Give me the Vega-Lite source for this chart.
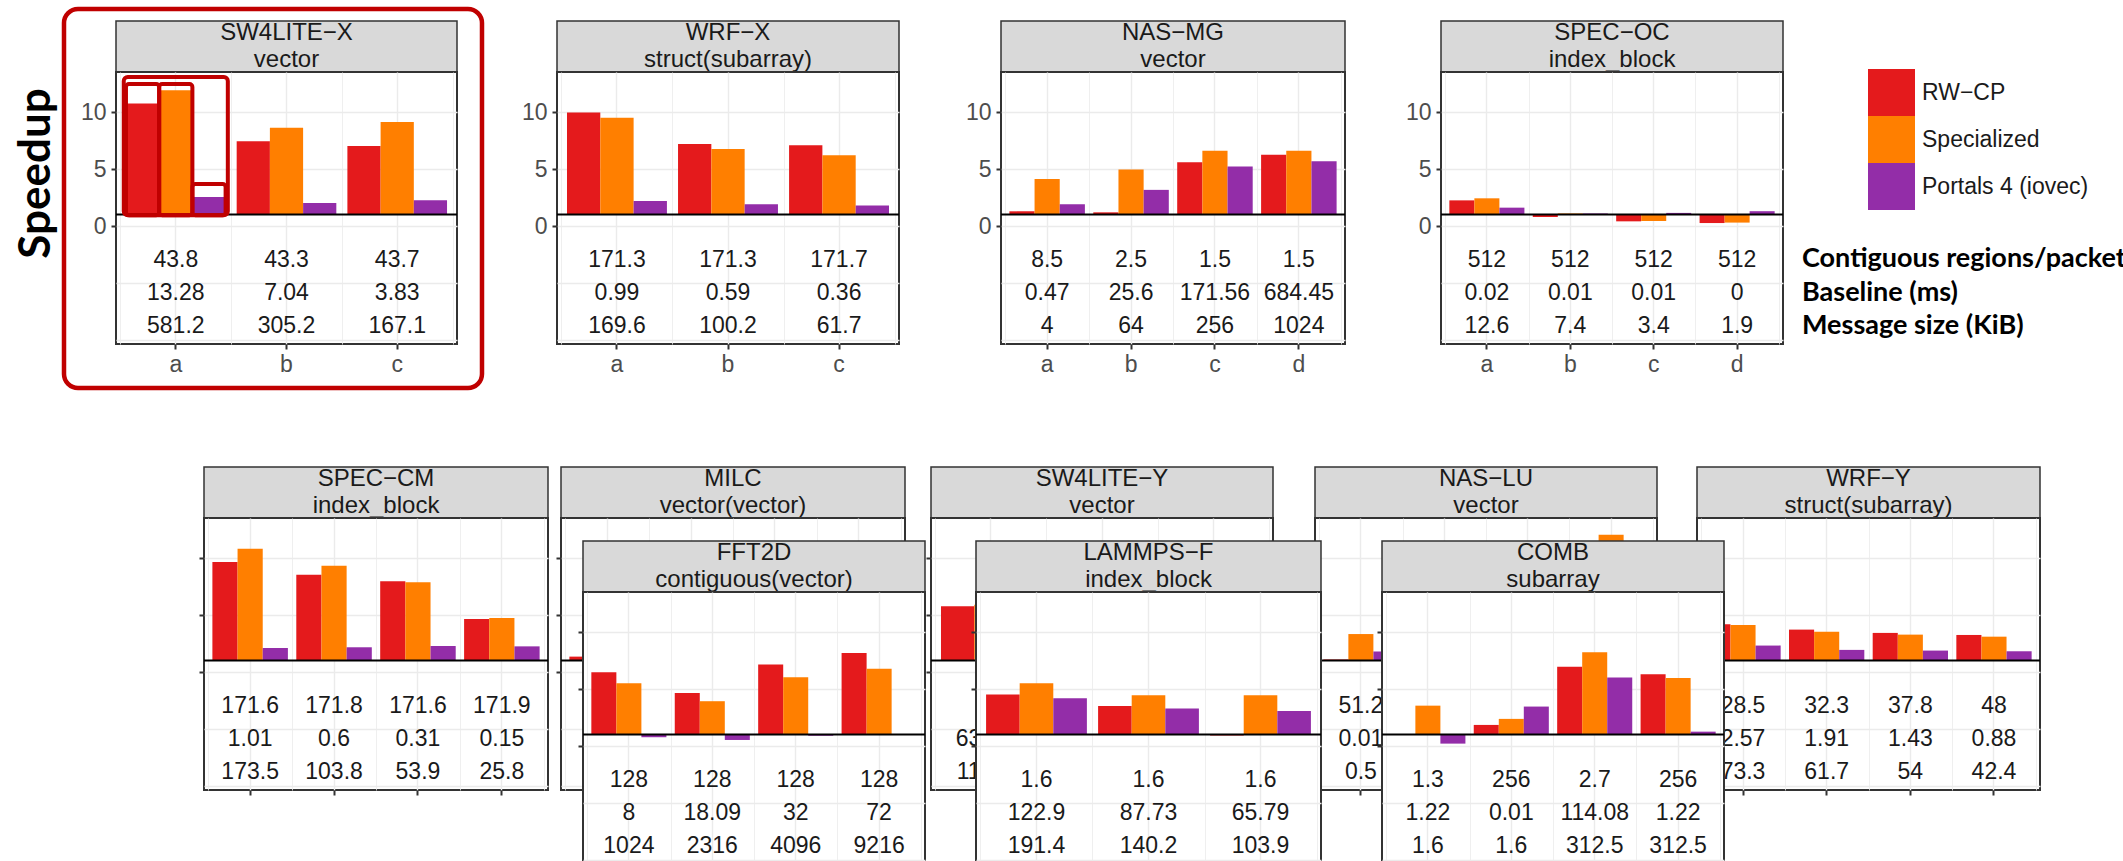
{
 "$schema": "https://vega.github.io/schema/vega-lite/v6.json",
 "padding": {"left": 13, "top": 5, "right": 2, "bottom": 2},
 "background": "white",
 "config": {
  "view": {"stroke": "#333333", "strokeWidth": 2, "fill": "white"},
  "axis": {"labelFont": "Liberation Sans", "labelFontSize": 23, "labelColor": "#4D4D4D", "tickColor": "#333333", "tickSize": 5, "tickWidth": 2, "domain": false, "gridColor": "#EBEBEB"},
  "text": {"font": "Liberation Sans", "fontSize": 23, "color": "#1A1A1A"}
 },
 "datasets": {
  "bars": [
   {"p":"SW4LITE-X","cat":"a","s":"RW-CP","v":10.74},{"p":"SW4LITE-X","cat":"a","s":"Specialized","v":11.9},{"p":"SW4LITE-X","cat":"a","s":"Portals 4 (iovec)","v":2.54},
   {"p":"SW4LITE-X","cat":"b","s":"RW-CP","v":7.43},{"p":"SW4LITE-X","cat":"b","s":"Specialized","v":8.63},{"p":"SW4LITE-X","cat":"b","s":"Portals 4 (iovec)","v":2.02},
   {"p":"SW4LITE-X","cat":"c","s":"RW-CP","v":7.02},{"p":"SW4LITE-X","cat":"c","s":"Specialized","v":9.12},{"p":"SW4LITE-X","cat":"c","s":"Portals 4 (iovec)","v":2.25},
   {"p":"WRF-X","cat":"a","s":"RW-CP","v":9.95},{"p":"WRF-X","cat":"a","s":"Specialized","v":9.5},{"p":"WRF-X","cat":"a","s":"Portals 4 (iovec)","v":2.19},
   {"p":"WRF-X","cat":"b","s":"RW-CP","v":7.19},{"p":"WRF-X","cat":"b","s":"Specialized","v":6.75},{"p":"WRF-X","cat":"b","s":"Portals 4 (iovec)","v":1.9},
   {"p":"WRF-X","cat":"c","s":"RW-CP","v":7.08},{"p":"WRF-X","cat":"c","s":"Specialized","v":6.2},{"p":"WRF-X","cat":"c","s":"Portals 4 (iovec)","v":1.79},
   {"p":"NAS-MG","cat":"a","s":"RW-CP","v":1.29},{"p":"NAS-MG","cat":"a","s":"Specialized","v":4.13},{"p":"NAS-MG","cat":"a","s":"Portals 4 (iovec)","v":1.9},
   {"p":"NAS-MG","cat":"b","s":"RW-CP","v":1.2},{"p":"NAS-MG","cat":"b","s":"Specialized","v":4.95},{"p":"NAS-MG","cat":"b","s":"Portals 4 (iovec)","v":3.17},
   {"p":"NAS-MG","cat":"c","s":"RW-CP","v":5.59},{"p":"NAS-MG","cat":"c","s":"Specialized","v":6.61},{"p":"NAS-MG","cat":"c","s":"Portals 4 (iovec)","v":5.21},
   {"p":"NAS-MG","cat":"d","s":"RW-CP","v":6.26},{"p":"NAS-MG","cat":"d","s":"Specialized","v":6.61},{"p":"NAS-MG","cat":"d","s":"Portals 4 (iovec)","v":5.68},
   {"p":"SPEC-OC","cat":"a","s":"RW-CP","v":2.25},{"p":"SPEC-OC","cat":"a","s":"Specialized","v":2.43},{"p":"SPEC-OC","cat":"a","s":"Portals 4 (iovec)","v":1.61},
   {"p":"SPEC-OC","cat":"b","s":"RW-CP","v":0.79},{"p":"SPEC-OC","cat":"b","s":"Specialized","v":1.1},{"p":"SPEC-OC","cat":"b","s":"Portals 4 (iovec)","v":1.1},
   {"p":"SPEC-OC","cat":"c","s":"RW-CP","v":0.41},{"p":"SPEC-OC","cat":"c","s":"Specialized","v":0.44},{"p":"SPEC-OC","cat":"c","s":"Portals 4 (iovec)","v":1.15},
   {"p":"SPEC-OC","cat":"d","s":"RW-CP","v":0.26},{"p":"SPEC-OC","cat":"d","s":"Specialized","v":0.3},{"p":"SPEC-OC","cat":"d","s":"Portals 4 (iovec)","v":1.3},
   {"p":"SPEC-CM","cat":"a","s":"RW-CP","v":9.65},{"p":"SPEC-CM","cat":"a","s":"Specialized","v":10.82},{"p":"SPEC-CM","cat":"a","s":"Portals 4 (iovec)","v":2.1},
   {"p":"SPEC-CM","cat":"b","s":"RW-CP","v":8.54},{"p":"SPEC-CM","cat":"b","s":"Specialized","v":9.33},{"p":"SPEC-CM","cat":"b","s":"Portals 4 (iovec)","v":2.17},
   {"p":"SPEC-CM","cat":"c","s":"RW-CP","v":7.96},{"p":"SPEC-CM","cat":"c","s":"Specialized","v":7.87},{"p":"SPEC-CM","cat":"c","s":"Portals 4 (iovec)","v":2.28},
   {"p":"SPEC-CM","cat":"d","s":"RW-CP","v":4.65},{"p":"SPEC-CM","cat":"d","s":"Specialized","v":4.74},{"p":"SPEC-CM","cat":"d","s":"Portals 4 (iovec)","v":2.25},
   {"p":"MILC","cat":"a","s":"RW-CP","v":1.35},
   {"p":"SW4LITE-Y","cat":"a","s":"RW-CP","v":5.77},{"p":"SW4LITE-Y","cat":"a","s":"Specialized","v":5.9},
   {"p":"NAS-LU","cat":"a","s":"RW-CP","v":1.1},{"p":"NAS-LU","cat":"a","s":"Specialized","v":3.33},{"p":"NAS-LU","cat":"a","s":"Portals 4 (iovec)","v":1.8},
   {"p":"NAS-LU","cat":"d","s":"Specialized","v":12.05},
   {"p":"WRF-Y","cat":"a","s":"RW-CP","v":4.2},{"p":"WRF-Y","cat":"a","s":"Specialized","v":4.13},{"p":"WRF-Y","cat":"a","s":"Portals 4 (iovec)","v":2.32},
   {"p":"WRF-Y","cat":"b","s":"RW-CP","v":3.72},{"p":"WRF-Y","cat":"b","s":"Specialized","v":3.54},{"p":"WRF-Y","cat":"b","s":"Portals 4 (iovec)","v":1.94},
   {"p":"WRF-Y","cat":"c","s":"RW-CP","v":3.43},{"p":"WRF-Y","cat":"c","s":"Specialized","v":3.28},{"p":"WRF-Y","cat":"c","s":"Portals 4 (iovec)","v":1.88},
   {"p":"WRF-Y","cat":"d","s":"RW-CP","v":3.25},{"p":"WRF-Y","cat":"d","s":"Specialized","v":3.1},{"p":"WRF-Y","cat":"d","s":"Portals 4 (iovec)","v":1.82},
   {"p":"FFT2D","cat":"a","s":"RW-CP","v":6.47},{"p":"FFT2D","cat":"a","s":"Specialized","v":5.51},{"p":"FFT2D","cat":"a","s":"Portals 4 (iovec)","v":0.77},
   {"p":"FFT2D","cat":"b","s":"RW-CP","v":4.66},{"p":"FFT2D","cat":"b","s":"Specialized","v":3.93},{"p":"FFT2D","cat":"b","s":"Portals 4 (iovec)","v":0.53},
   {"p":"FFT2D","cat":"c","s":"RW-CP","v":7.14},{"p":"FFT2D","cat":"c","s":"Specialized","v":6.03},{"p":"FFT2D","cat":"c","s":"Portals 4 (iovec)","v":0.9},
   {"p":"FFT2D","cat":"d","s":"RW-CP","v":8.17},{"p":"FFT2D","cat":"d","s":"Specialized","v":6.77},{"p":"FFT2D","cat":"d","s":"Portals 4 (iovec)","v":1.05},
   {"p":"LAMMPS-F","cat":"a","s":"RW-CP","v":4.51},{"p":"LAMMPS-F","cat":"a","s":"Specialized","v":5.51},{"p":"LAMMPS-F","cat":"a","s":"Portals 4 (iovec)","v":4.19},
   {"p":"LAMMPS-F","cat":"b","s":"RW-CP","v":3.52},{"p":"LAMMPS-F","cat":"b","s":"Specialized","v":4.46},{"p":"LAMMPS-F","cat":"b","s":"Portals 4 (iovec)","v":3.28},
   {"p":"LAMMPS-F","cat":"c","s":"RW-CP","v":0.92},{"p":"LAMMPS-F","cat":"c","s":"Specialized","v":4.46},{"p":"LAMMPS-F","cat":"c","s":"Portals 4 (iovec)","v":3.08},
   {"p":"COMB","cat":"a","s":"RW-CP","v":1.05},{"p":"COMB","cat":"a","s":"Specialized","v":3.54},{"p":"COMB","cat":"a","s":"Portals 4 (iovec)","v":0.21},
   {"p":"COMB","cat":"b","s":"RW-CP","v":1.85},{"p":"COMB","cat":"b","s":"Specialized","v":2.38},{"p":"COMB","cat":"b","s":"Portals 4 (iovec)","v":3.46},
   {"p":"COMB","cat":"c","s":"RW-CP","v":6.96},{"p":"COMB","cat":"c","s":"Specialized","v":8.22},{"p":"COMB","cat":"c","s":"Portals 4 (iovec)","v":6.0},
   {"p":"COMB","cat":"d","s":"RW-CP","v":6.3},{"p":"COMB","cat":"d","s":"Specialized","v":5.97},{"p":"COMB","cat":"d","s":"Portals 4 (iovec)","v":1.26}
  ],
  "tab": [
   {"p":"SW4LITE-X","cat":"a","r1":"43.8","r2":"13.28","r3":"581.2"},{"p":"SW4LITE-X","cat":"b","r1":"43.3","r2":"7.04","r3":"305.2"},{"p":"SW4LITE-X","cat":"c","r1":"43.7","r2":"3.83","r3":"167.1"},
   {"p":"WRF-X","cat":"a","r1":"171.3","r2":"0.99","r3":"169.6"},{"p":"WRF-X","cat":"b","r1":"171.3","r2":"0.59","r3":"100.2"},{"p":"WRF-X","cat":"c","r1":"171.7","r2":"0.36","r3":"61.7"},
   {"p":"NAS-MG","cat":"a","r1":"8.5","r2":"0.47","r3":"4"},{"p":"NAS-MG","cat":"b","r1":"2.5","r2":"25.6","r3":"64"},{"p":"NAS-MG","cat":"c","r1":"1.5","r2":"171.56","r3":"256"},{"p":"NAS-MG","cat":"d","r1":"1.5","r2":"684.45","r3":"1024"},
   {"p":"SPEC-OC","cat":"a","r1":"512","r2":"0.02","r3":"12.6"},{"p":"SPEC-OC","cat":"b","r1":"512","r2":"0.01","r3":"7.4"},{"p":"SPEC-OC","cat":"c","r1":"512","r2":"0.01","r3":"3.4"},{"p":"SPEC-OC","cat":"d","r1":"512","r2":"0","r3":"1.9"},
   {"p":"SPEC-CM","cat":"a","r1":"171.6","r2":"1.01","r3":"173.5"},{"p":"SPEC-CM","cat":"b","r1":"171.8","r2":"0.6","r3":"103.8"},{"p":"SPEC-CM","cat":"c","r1":"171.6","r2":"0.31","r3":"53.9"},{"p":"SPEC-CM","cat":"d","r1":"171.9","r2":"0.15","r3":"25.8"},
   {"p":"SW4LITE-Y","cat":"a","r1":"1","r2":"634.27","r3":"1163.2"},
   {"p":"NAS-LU","cat":"a","r1":"51.2","r2":"0.01","r3":"0.5"},
   {"p":"WRF-Y","cat":"a","r1":"28.5","r2":"2.57","r3":"73.3"},{"p":"WRF-Y","cat":"b","r1":"32.3","r2":"1.91","r3":"61.7"},{"p":"WRF-Y","cat":"c","r1":"37.8","r2":"1.43","r3":"54"},{"p":"WRF-Y","cat":"d","r1":"48","r2":"0.88","r3":"42.4"},
   {"p":"FFT2D","cat":"a","r1":"128","r2":"8","r3":"1024"},{"p":"FFT2D","cat":"b","r1":"128","r2":"18.09","r3":"2316"},{"p":"FFT2D","cat":"c","r1":"128","r2":"32","r3":"4096"},{"p":"FFT2D","cat":"d","r1":"128","r2":"72","r3":"9216"},
   {"p":"LAMMPS-F","cat":"a","r1":"1.6","r2":"122.9","r3":"191.4"},{"p":"LAMMPS-F","cat":"b","r1":"1.6","r2":"87.73","r3":"140.2"},{"p":"LAMMPS-F","cat":"c","r1":"1.6","r2":"65.79","r3":"103.9"},
   {"p":"COMB","cat":"a","r1":"1.3","r2":"1.22","r3":"1.6"},{"p":"COMB","cat":"b","r1":"256","r2":"0.01","r3":"1.6"},{"p":"COMB","cat":"c","r1":"2.7","r2":"114.08","r3":"312.5"},{"p":"COMB","cat":"d","r1":"256","r2":"1.22","r3":"312.5"}
  ],
  "annot": [
   {"cat":"a","s":"RW-CP","top":12.46},{"cat":"a","s":"Specialized","top":12.46},{"cat":"a","s":"Portals 4 (iovec)","top":3.68}
  ],
  "annot2": [{"cat":"a","top":13.07}],
  "rowlab": [
   {"row":1,"label":"Contiguous regions/packet"},{"row":2,"label":"Baseline (ms)"},{"row":3,"label":"Message size (KiB)"}
  ]
 },
 "spacing": 74,
 "resolve": {"scale": {"xOffset": "independent"}},
 "vconcat": [
  {
   "spacing": 17,
   "resolve": {"scale": {"xOffset": "independent"}},
   "hconcat": [
    {
     "spacing": 34,
     "resolve": {"scale": {"xOffset": "independent"}},
     "hconcat": [
      {
       "spacing": 0, "bounds": "flush",
       "vconcat": [
        {"width": 341, "height": 51, "view": {"fill": "#D9D9D9", "stroke": "#333333", "strokeWidth": 1.5}, "data": {"values": [{"label": "SW4LITE−X\nvector"}]}, "mark": {"type": "text", "lineBreak": "\n", "lineHeight": 27, "fontSize": 24, "baseline": "middle", "dy": -13.5}, "encoding": {"text": {"field": "label"}}},
        {
         "width": 341, "height": 272,
         "layer": [
          {
           "layer": [
            {"data": {"name": "bars"}, "transform": [{"filter": "datum.p == 'SW4LITE-X'"}], "mark": "bar",
             "encoding": {
              "x": {"field": "cat", "type": "nominal", "scale": {"domain": ["a","b","c"], "paddingInner": 0, "paddingOuter": 0.04}, "axis": {"orient":"bottom","title":null,"labelAngle":0,"labelPadding":4,"grid":true,"gridWidth":1.4}},
              "xOffset": {"field": "s", "type": "nominal", "scale": {"domain": ["RW-CP","Specialized","Portals 4 (iovec)"], "paddingInner": 0, "paddingOuter": 0.1667}},
              "y": {"field": "v", "type": "quantitative", "scale": {"domain": [-10.35, 13.51], "nice": false, "zero": false}, "axis": {"values":[-10,-7.5,-5,-2.5,0,2.5,5,7.5,10,12.5],"title":"Speedup","titleFont":"Lato","titleFontSize":44,"titleFontWeight":"bold","titleColor":"#000000","titleY":101,"titlePadding":22,"labelPadding":5,"labelExpr":"datum.value >= 0 && datum.value % 5 == 0 ? datum.label : ''","tickOpacity":{"condition":{"test":"datum.value >= 0 && datum.value % 5 == 0","value":1},"value":0},"gridWidth":{"condition":{"test":"datum.value % 5 == 0","value":1.4},"value":0.8}}},
              "y2": {"datum": 1},
              "color": {"field": "s", "type": "nominal", "scale": {"domain": ["RW-CP","Specialized","Portals 4 (iovec)"], "range": ["#E41A1C","#FF7F00","#932DA8"]},
                "legend": {"orient": "none", "legendX": 1752, "legendY": 48, "title": null, "padding": 0, "symbolType": "square", "symbolSize": 2209, "symbolStrokeWidth": 0, "symbolOpacity": 1, "rowPadding": 0, "labelFont": "Liberation Sans", "labelFontSize": 23, "labelColor": "#1A1A1A", "labelOffset": 7, "labelLimit": 400, "labelExpr": "replace(datum.label, '-', '−')"}}
             }},
            {"data": {"name": "bars"}, "transform": [{"filter": "datum.p == 'SW4LITE-X'"}], "mark": {"type": "text", "text": ""}, "encoding": {"x": {"field": "cat", "type": "nominal", "axis": {"orient":"bottom","title":null,"tickBand":"extent","grid":true,"gridWidth":0.8,"labels":false,"ticks":false,"domain":false}}}},
            {"data": {"name": "tab"}, "transform": [{"filter": "datum.p == 'SW4LITE-X'"}], "mark": "text", "encoding": {"x": {"field": "cat", "type": "nominal", "axis": null}, "y": {"datum": -2.95, "type": "quantitative"}, "text": {"field": "r1"}}},
            {"data": {"name": "tab"}, "transform": [{"filter": "datum.p == 'SW4LITE-X'"}], "mark": "text", "encoding": {"x": {"field": "cat", "type": "nominal", "axis": null}, "y": {"datum": -5.9, "type": "quantitative"}, "text": {"field": "r2"}}},
            {"data": {"name": "tab"}, "transform": [{"filter": "datum.p == 'SW4LITE-X'"}], "mark": "text", "encoding": {"x": {"field": "cat", "type": "nominal", "axis": null}, "y": {"datum": -8.8, "type": "quantitative"}, "text": {"field": "r3"}}},
            {"data": {"values": [{}]}, "mark": {"type": "rule", "color": "#000000", "strokeWidth": 2}, "encoding": {"y": {"datum": 1, "type": "quantitative"}}},
            {"data": {"name": "annot"}, "mark": {"type": "bar", "filled": false, "stroke": "#C00000", "strokeWidth": 4, "cornerRadius": 3}, "encoding": {"x": {"field": "cat", "type": "nominal", "axis": null}, "xOffset": {"field": "s", "type": "nominal"}, "y": {"field": "top", "type": "quantitative"}, "y2": {"datum": 0.95}}},
            {"data": {"name": "annot2"}, "mark": {"type": "bar", "filled": false, "stroke": "#C00000", "strokeWidth": 4, "cornerRadius": 4, "width": {"band": 0.94}}, "encoding": {"x": {"field": "cat", "type": "nominal", "axis": null}, "y": {"field": "top", "type": "quantitative"}, "y2": {"datum": 0.95}}}
           ],
           "resolve": {"axis": {"x": "independent"}}
          },
          {"data": {"values": [{}]}, "mark": {"type": "rect", "filled": false, "stroke": "#C00000", "strokeWidth": 4.5, "cornerRadius": 14, "clip": false},
           "encoding": {"x": {"datum": -0.1525, "type": "quantitative", "scale": {"domain": [0, 1], "nice": false, "zero": false}, "axis": null}, "x2": {"datum": 1.0733}, "y": {"datum": 19.04, "type": "quantitative"}, "y2": {"datum": -14.21}}}
         ],
         "resolve": {"scale": {"x": "independent"}, "axis": {"x": "independent"}}
        }
       ]
      },
      {
       "spacing": 63,
       "resolve": {"scale": {"xOffset": "independent"}},
       "hconcat": [
        {
         "spacing": 0, "bounds": "flush",
         "vconcat": [
          {"width": 342, "height": 51, "view": {"fill": "#D9D9D9", "stroke": "#333333", "strokeWidth": 1.5}, "data": {"values": [{"label": "WRF−X\nstruct(subarray)"}]}, "mark": {"type": "text", "lineBreak": "\n", "lineHeight": 27, "fontSize": 24, "baseline": "middle", "dy": -13.5}, "encoding": {"text": {"field": "label"}}},
          {
           "width": 342, "height": 272,
           "layer": [
            {"data": {"name": "bars"}, "transform": [{"filter": "datum.p == 'WRF-X'"}], "mark": "bar",
             "encoding": {
              "x": {"field": "cat", "type": "nominal", "scale": {"domain": ["a","b","c"], "paddingInner": 0, "paddingOuter": 0.04}, "axis": {"orient":"bottom","title":null,"labelAngle":0,"labelPadding":4,"grid":true,"gridWidth":1.4}},
              "xOffset": {"field": "s", "type": "nominal", "scale": {"domain": ["RW-CP","Specialized","Portals 4 (iovec)"], "paddingInner": 0, "paddingOuter": 0.1667}},
              "y": {"field": "v", "type": "quantitative", "scale": {"domain": [-10.35, 13.51], "nice": false, "zero": false}, "axis": {"values":[-10,-7.5,-5,-2.5,0,2.5,5,7.5,10,12.5],"title":null,"labelPadding":5,"labelExpr":"datum.value >= 0 && datum.value % 5 == 0 ? datum.label : ''","tickOpacity":{"condition":{"test":"datum.value >= 0 && datum.value % 5 == 0","value":1},"value":0},"gridWidth":{"condition":{"test":"datum.value % 5 == 0","value":1.4},"value":0.8}}},
              "y2": {"datum": 1},
              "color": {"field": "s", "type": "nominal", "scale": {"domain": ["RW-CP","Specialized","Portals 4 (iovec)"], "range": ["#E41A1C","#FF7F00","#932DA8"]}, "legend": null}
             }},
            {"data": {"name": "bars"}, "transform": [{"filter": "datum.p == 'WRF-X'"}], "mark": {"type": "text", "text": ""}, "encoding": {"x": {"field": "cat", "type": "nominal", "axis": {"orient":"bottom","title":null,"tickBand":"extent","grid":true,"gridWidth":0.8,"labels":false,"ticks":false,"domain":false}}}},
            {"data": {"name": "tab"}, "transform": [{"filter": "datum.p == 'WRF-X'"}], "mark": "text", "encoding": {"x": {"field": "cat", "type": "nominal", "axis": null}, "y": {"datum": -2.95, "type": "quantitative"}, "text": {"field": "r1"}}},
            {"data": {"name": "tab"}, "transform": [{"filter": "datum.p == 'WRF-X'"}], "mark": "text", "encoding": {"x": {"field": "cat", "type": "nominal", "axis": null}, "y": {"datum": -5.9, "type": "quantitative"}, "text": {"field": "r2"}}},
            {"data": {"name": "tab"}, "transform": [{"filter": "datum.p == 'WRF-X'"}], "mark": "text", "encoding": {"x": {"field": "cat", "type": "nominal", "axis": null}, "y": {"datum": -8.8, "type": "quantitative"}, "text": {"field": "r3"}}},
            {"data": {"values": [{}]}, "mark": {"type": "rule", "color": "#000000", "strokeWidth": 2}, "encoding": {"y": {"datum": 1, "type": "quantitative"}}}
           ],
           "resolve": {"axis": {"x": "independent"}}
          }
         ]
        },
        {
         "spacing": 57,
         "resolve": {"scale": {"xOffset": "independent"}},
         "hconcat": [
          {
           "spacing": 0, "bounds": "flush",
           "vconcat": [
            {"width": 344, "height": 51, "view": {"fill": "#D9D9D9", "stroke": "#333333", "strokeWidth": 1.5}, "data": {"values": [{"label": "NAS−MG\nvector"}]}, "mark": {"type": "text", "lineBreak": "\n", "lineHeight": 27, "fontSize": 24, "baseline": "middle", "dy": -13.5}, "encoding": {"text": {"field": "label"}}},
            {
             "width": 344, "height": 272,
             "layer": [
              {"data": {"name": "bars"}, "transform": [{"filter": "datum.p == 'NAS-MG'"}], "mark": "bar",
               "encoding": {
                "x": {"field": "cat", "type": "nominal", "scale": {"domain": ["a","b","c","d"], "paddingInner": 0, "paddingOuter": 0.05}, "axis": {"orient":"bottom","title":null,"labelAngle":0,"labelPadding":4,"grid":true,"gridWidth":1.4}},
                "xOffset": {"field": "s", "type": "nominal", "scale": {"domain": ["RW-CP","Specialized","Portals 4 (iovec)"], "paddingInner": 0, "paddingOuter": 0.1667}},
                "y": {"field": "v", "type": "quantitative", "scale": {"domain": [-10.35, 13.51], "nice": false, "zero": false}, "axis": {"values":[-10,-7.5,-5,-2.5,0,2.5,5,7.5,10,12.5],"title":null,"labelPadding":5,"labelExpr":"datum.value >= 0 && datum.value % 5 == 0 ? datum.label : ''","tickOpacity":{"condition":{"test":"datum.value >= 0 && datum.value % 5 == 0","value":1},"value":0},"gridWidth":{"condition":{"test":"datum.value % 5 == 0","value":1.4},"value":0.8}}},
                "y2": {"datum": 1},
                "color": {"field": "s", "type": "nominal", "scale": {"domain": ["RW-CP","Specialized","Portals 4 (iovec)"], "range": ["#E41A1C","#FF7F00","#932DA8"]}, "legend": null}
               }},
              {"data": {"name": "bars"}, "transform": [{"filter": "datum.p == 'NAS-MG'"}], "mark": {"type": "text", "text": ""}, "encoding": {"x": {"field": "cat", "type": "nominal", "axis": {"orient":"bottom","title":null,"tickBand":"extent","grid":true,"gridWidth":0.8,"labels":false,"ticks":false,"domain":false}}}},
              {"data": {"name": "tab"}, "transform": [{"filter": "datum.p == 'NAS-MG'"}], "mark": "text", "encoding": {"x": {"field": "cat", "type": "nominal", "axis": null}, "y": {"datum": -2.95, "type": "quantitative"}, "text": {"field": "r1"}}},
              {"data": {"name": "tab"}, "transform": [{"filter": "datum.p == 'NAS-MG'"}], "mark": "text", "encoding": {"x": {"field": "cat", "type": "nominal", "axis": null}, "y": {"datum": -5.9, "type": "quantitative"}, "text": {"field": "r2"}}},
              {"data": {"name": "tab"}, "transform": [{"filter": "datum.p == 'NAS-MG'"}], "mark": "text", "encoding": {"x": {"field": "cat", "type": "nominal", "axis": null}, "y": {"datum": -8.8, "type": "quantitative"}, "text": {"field": "r3"}}},
              {"data": {"values": [{}]}, "mark": {"type": "rule", "color": "#000000", "strokeWidth": 2}, "encoding": {"y": {"datum": 1, "type": "quantitative"}}}
             ],
             "resolve": {"axis": {"x": "independent"}}
            }
           ]
          },
          {
           "spacing": 0, "bounds": "flush",
           "vconcat": [
            {"width": 342, "height": 51, "view": {"fill": "#D9D9D9", "stroke": "#333333", "strokeWidth": 1.5}, "data": {"values": [{"label": "SPEC−OC\nindex_block"}]}, "mark": {"type": "text", "lineBreak": "\n", "lineHeight": 27, "fontSize": 24, "baseline": "middle", "dy": -13.5}, "encoding": {"text": {"field": "label"}}},
            {
             "width": 342, "height": 272,
             "layer": [
              {"data": {"name": "bars"}, "transform": [{"filter": "datum.p == 'SPEC-OC'"}], "mark": "bar",
               "encoding": {
                "x": {"field": "cat", "type": "nominal", "scale": {"domain": ["a","b","c","d"], "paddingInner": 0, "paddingOuter": 0.05}, "axis": {"orient":"bottom","title":null,"labelAngle":0,"labelPadding":4,"grid":true,"gridWidth":1.4}},
                "xOffset": {"field": "s", "type": "nominal", "scale": {"domain": ["RW-CP","Specialized","Portals 4 (iovec)"], "paddingInner": 0, "paddingOuter": 0.1667}},
                "y": {"field": "v", "type": "quantitative", "scale": {"domain": [-10.35, 13.51], "nice": false, "zero": false}, "axis": {"values":[-10,-7.5,-5,-2.5,0,2.5,5,7.5,10,12.5],"title":null,"labelPadding":5,"labelExpr":"datum.value >= 0 && datum.value % 5 == 0 ? datum.label : ''","tickOpacity":{"condition":{"test":"datum.value >= 0 && datum.value % 5 == 0","value":1},"value":0},"gridWidth":{"condition":{"test":"datum.value % 5 == 0","value":1.4},"value":0.8}}},
                "y2": {"datum": 1},
                "color": {"field": "s", "type": "nominal", "scale": {"domain": ["RW-CP","Specialized","Portals 4 (iovec)"], "range": ["#E41A1C","#FF7F00","#932DA8"]}, "legend": null}
               }},
              {"data": {"name": "bars"}, "transform": [{"filter": "datum.p == 'SPEC-OC'"}], "mark": {"type": "text", "text": ""}, "encoding": {"x": {"field": "cat", "type": "nominal", "axis": {"orient":"bottom","title":null,"tickBand":"extent","grid":true,"gridWidth":0.8,"labels":false,"ticks":false,"domain":false}}}},
              {"data": {"name": "tab"}, "transform": [{"filter": "datum.p == 'SPEC-OC'"}], "mark": "text", "encoding": {"x": {"field": "cat", "type": "nominal", "axis": null}, "y": {"datum": -2.95, "type": "quantitative"}, "text": {"field": "r1"}}},
              {"data": {"name": "tab"}, "transform": [{"filter": "datum.p == 'SPEC-OC'"}], "mark": "text", "encoding": {"x": {"field": "cat", "type": "nominal", "axis": null}, "y": {"datum": -5.9, "type": "quantitative"}, "text": {"field": "r2"}}},
              {"data": {"name": "tab"}, "transform": [{"filter": "datum.p == 'SPEC-OC'"}], "mark": "text", "encoding": {"x": {"field": "cat", "type": "nominal", "axis": null}, "y": {"datum": -8.8, "type": "quantitative"}, "text": {"field": "r3"}}},
              {"data": {"values": [{}]}, "mark": {"type": "rule", "color": "#000000", "strokeWidth": 2}, "encoding": {"y": {"datum": 1, "type": "quantitative"}}}
             ],
             "resolve": {"axis": {"x": "independent"}}
            }
           ]
          }
         ]
        }
       ]
      }
     ]
    },
    {
     "width": 310, "height": 330, "view": {"fill": "transparent", "stroke": null},
     "data": {"name": "rowlab"},
     "layer": [
      {"transform": [{"filter": "datum.row == 1"}], "mark": {"type": "text", "align": "left", "baseline": "middle", "font": "Lato", "fontWeight": "bold", "fontSize": 27, "color": "#000000"}, "encoding": {"x": {"datum": 0, "type": "quantitative", "scale": {"domain": [0, 1], "nice": false, "zero": false}, "axis": null}, "y": {"datum": -2.95, "type": "quantitative", "scale": {"domain": [-10.99, 17.96], "nice": false, "zero": false}, "axis": null}, "text": {"field": "label"}}},
      {"transform": [{"filter": "datum.row == 2"}], "mark": {"type": "text", "align": "left", "baseline": "middle", "font": "Lato", "fontWeight": "bold", "fontSize": 27, "color": "#000000"}, "encoding": {"x": {"datum": 0, "type": "quantitative", "axis": null}, "y": {"datum": -5.9, "type": "quantitative", "axis": null}, "text": {"field": "label"}}},
      {"transform": [{"filter": "datum.row == 3"}], "mark": {"type": "text", "align": "left", "baseline": "middle", "font": "Lato", "fontWeight": "bold", "fontSize": 27, "color": "#000000"}, "encoding": {"x": {"datum": 0, "type": "quantitative", "axis": null}, "y": {"datum": -8.8, "type": "quantitative", "axis": null}, "text": {"field": "label"}}}
     ]
    }
   ]
  },
  {
   "spacing": 74,
   "bounds": "flush",
   "resolve": {"scale": {"xOffset": "independent"}},
   "vconcat": [
    {
     "spacing": 4,
     "resolve": {"scale": {"xOffset": "independent"}},
     "hconcat": [
      {"width": 77, "height": 20, "view": {"fill": "transparent", "stroke": null}, "data": {"values": [{}]}, "mark": {"type": "text", "text": ""}, "encoding": {}},
      {
       "spacing": 0, "bounds": "flush",
       "vconcat": [
        {"width": 344, "height": 51, "view": {"fill": "#D9D9D9", "stroke": "#333333", "strokeWidth": 1.5}, "data": {"values": [{"label": "SPEC−CM\nindex_block"}]}, "mark": {"type": "text", "lineBreak": "\n", "lineHeight": 27, "fontSize": 24, "baseline": "middle", "dy": -13.5}, "encoding": {"text": {"field": "label"}}},
        {
         "width": 344, "height": 272,
         "layer": [
          {"data": {"name": "bars"}, "transform": [{"filter": "datum.p == 'SPEC-CM'"}], "mark": "bar",
           "encoding": {
            "x": {"field": "cat", "type": "nominal", "scale": {"domain": ["a","b","c","d"], "paddingInner": 0, "paddingOuter": 0.05}, "axis": {"orient":"bottom","title":null,"labels":false,"grid":true,"gridWidth":1.4}},
            "xOffset": {"field": "s", "type": "nominal", "scale": {"domain": ["RW-CP","Specialized","Portals 4 (iovec)"], "paddingInner": 0, "paddingOuter": 0.1667}},
            "y": {"field": "v", "type": "quantitative", "scale": {"domain": [-10.35, 13.51], "nice": false, "zero": false}, "axis": {"values":[-10,-7.5,-5,-2.5,0,2.5,5,7.5,10,12.5],"title":null,"labels":false,"tickOpacity":{"condition":{"test":"datum.value >= 0 && datum.value % 5 == 0","value":1},"value":0},"gridWidth":{"condition":{"test":"datum.value % 5 == 0","value":1.4},"value":0.8}}},
            "y2": {"datum": 1},
            "color": {"field": "s", "type": "nominal", "scale": {"domain": ["RW-CP","Specialized","Portals 4 (iovec)"], "range": ["#E41A1C","#FF7F00","#932DA8"]}, "legend": null}
           }},
          {"data": {"name": "bars"}, "transform": [{"filter": "datum.p == 'SPEC-CM'"}], "mark": {"type": "text", "text": ""}, "encoding": {"x": {"field": "cat", "type": "nominal", "axis": {"orient":"bottom","title":null,"tickBand":"extent","grid":true,"gridWidth":0.8,"labels":false,"ticks":false,"domain":false}}}},
          {"data": {"name": "tab"}, "transform": [{"filter": "datum.p == 'SPEC-CM'"}], "mark": "text", "encoding": {"x": {"field": "cat", "type": "nominal", "axis": null}, "y": {"datum": -2.95, "type": "quantitative"}, "text": {"field": "r1"}}},
          {"data": {"name": "tab"}, "transform": [{"filter": "datum.p == 'SPEC-CM'"}], "mark": "text", "encoding": {"x": {"field": "cat", "type": "nominal", "axis": null}, "y": {"datum": -5.9, "type": "quantitative"}, "text": {"field": "r2"}}},
          {"data": {"name": "tab"}, "transform": [{"filter": "datum.p == 'SPEC-CM'"}], "mark": "text", "encoding": {"x": {"field": "cat", "type": "nominal", "axis": null}, "y": {"datum": -8.8, "type": "quantitative"}, "text": {"field": "r3"}}},
          {"data": {"values": [{}]}, "mark": {"type": "rule", "color": "#000000", "strokeWidth": 2}, "encoding": {"y": {"datum": 1, "type": "quantitative"}}}
         ],
         "resolve": {"axis": {"x": "independent"}}
        }
       ]
      },
      {
       "spacing": 17,
       "resolve": {"scale": {"xOffset": "independent"}},
       "hconcat": [
        {
         "spacing": 0, "bounds": "flush",
         "vconcat": [
          {"width": 344, "height": 51, "view": {"fill": "#D9D9D9", "stroke": "#333333", "strokeWidth": 1.5}, "data": {"values": [{"label": "MILC\nvector(vector)"}]}, "mark": {"type": "text", "lineBreak": "\n", "lineHeight": 27, "fontSize": 24, "baseline": "middle", "dy": -13.5}, "encoding": {"text": {"field": "label"}}},
          {
           "width": 344, "height": 272,
           "layer": [
            {"data": {"name": "bars"}, "transform": [{"filter": "datum.p == 'MILC'"}], "mark": "bar",
             "encoding": {
              "x": {"field": "cat", "type": "nominal", "scale": {"domain": ["a","b","c","d"], "paddingInner": 0, "paddingOuter": 0.05}, "axis": {"orient":"bottom","title":null,"labels":false,"grid":true,"gridWidth":1.4}},
              "xOffset": {"field": "s", "type": "nominal", "scale": {"domain": ["RW-CP","Specialized","Portals 4 (iovec)"], "paddingInner": 0, "paddingOuter": 0.1667}},
              "y": {"field": "v", "type": "quantitative", "scale": {"domain": [-10.35, 13.51], "nice": false, "zero": false}, "axis": {"values":[-10,-7.5,-5,-2.5,0,2.5,5,7.5,10,12.5],"title":null,"labels":false,"tickOpacity":{"condition":{"test":"datum.value >= 0 && datum.value % 5 == 0","value":1},"value":0},"gridWidth":{"condition":{"test":"datum.value % 5 == 0","value":1.4},"value":0.8}}},
              "y2": {"datum": 1},
              "color": {"field": "s", "type": "nominal", "scale": {"domain": ["RW-CP","Specialized","Portals 4 (iovec)"], "range": ["#E41A1C","#FF7F00","#932DA8"]}, "legend": null}
             }},
            {"data": {"name": "bars"}, "transform": [{"filter": "datum.p == 'MILC'"}], "mark": {"type": "text", "text": ""}, "encoding": {"x": {"field": "cat", "type": "nominal", "axis": {"orient":"bottom","title":null,"tickBand":"extent","grid":true,"gridWidth":0.8,"labels":false,"ticks":false,"domain":false}}}},
            {"data": {"values": [{}]}, "mark": {"type": "rule", "color": "#000000", "strokeWidth": 2}, "encoding": {"y": {"datum": 1, "type": "quantitative"}}}
           ],
           "resolve": {"axis": {"x": "independent"}}
          }
         ]
        },
        {
         "spacing": 33,
         "resolve": {"scale": {"xOffset": "independent"}},
         "hconcat": [
          {
           "spacing": 0, "bounds": "flush",
           "vconcat": [
            {"width": 342, "height": 51, "view": {"fill": "#D9D9D9", "stroke": "#333333", "strokeWidth": 1.5}, "data": {"values": [{"label": "SW4LITE−Y\nvector"}]}, "mark": {"type": "text", "lineBreak": "\n", "lineHeight": 27, "fontSize": 24, "baseline": "middle", "dy": -13.5}, "encoding": {"text": {"field": "label"}}},
            {
             "width": 342, "height": 272,
             "layer": [
              {"data": {"name": "bars"}, "transform": [{"filter": "datum.p == 'SW4LITE-Y'"}], "mark": "bar",
               "encoding": {
                "x": {"field": "cat", "type": "nominal", "scale": {"domain": ["a","b","c"], "paddingInner": 0, "paddingOuter": 0.04}, "axis": {"orient":"bottom","title":null,"labels":false,"grid":true,"gridWidth":1.4}},
                "xOffset": {"field": "s", "type": "nominal", "scale": {"domain": ["RW-CP","Specialized","Portals 4 (iovec)"], "paddingInner": 0, "paddingOuter": 0.1667}},
                "y": {"field": "v", "type": "quantitative", "scale": {"domain": [-10.35, 13.51], "nice": false, "zero": false}, "axis": {"values":[-10,-7.5,-5,-2.5,0,2.5,5,7.5,10,12.5],"title":null,"labels":false,"tickOpacity":{"condition":{"test":"datum.value >= 0 && datum.value % 5 == 0","value":1},"value":0},"gridWidth":{"condition":{"test":"datum.value % 5 == 0","value":1.4},"value":0.8}}},
                "y2": {"datum": 1},
                "color": {"field": "s", "type": "nominal", "scale": {"domain": ["RW-CP","Specialized","Portals 4 (iovec)"], "range": ["#E41A1C","#FF7F00","#932DA8"]}, "legend": null}
               }},
              {"data": {"name": "bars"}, "transform": [{"filter": "datum.p == 'SW4LITE-Y'"}], "mark": {"type": "text", "text": ""}, "encoding": {"x": {"field": "cat", "type": "nominal", "axis": {"orient":"bottom","title":null,"tickBand":"extent","grid":true,"gridWidth":0.8,"labels":false,"ticks":false,"domain":false}}}},
              {"data": {"name": "tab"}, "transform": [{"filter": "datum.p == 'SW4LITE-Y'"}], "mark": "text", "encoding": {"x": {"field": "cat", "type": "nominal", "axis": null}, "y": {"datum": -2.95, "type": "quantitative"}, "text": {"field": "r1"}}},
              {"data": {"name": "tab"}, "transform": [{"filter": "datum.p == 'SW4LITE-Y'"}], "mark": "text", "encoding": {"x": {"field": "cat", "type": "nominal", "axis": null}, "y": {"datum": -5.9, "type": "quantitative"}, "text": {"field": "r2"}}},
              {"data": {"name": "tab"}, "transform": [{"filter": "datum.p == 'SW4LITE-Y'"}], "mark": "text", "encoding": {"x": {"field": "cat", "type": "nominal", "axis": null}, "y": {"datum": -8.8, "type": "quantitative"}, "text": {"field": "r3"}}},
              {"data": {"values": [{}]}, "mark": {"type": "rule", "color": "#000000", "strokeWidth": 2}, "encoding": {"y": {"datum": 1, "type": "quantitative"}}}
             ],
             "resolve": {"axis": {"x": "independent"}}
            }
           ]
          },
          {
           "spacing": 31,
           "resolve": {"scale": {"xOffset": "independent"}},
           "hconcat": [
            {
             "spacing": 0, "bounds": "flush",
             "vconcat": [
              {"width": 342, "height": 51, "view": {"fill": "#D9D9D9", "stroke": "#333333", "strokeWidth": 1.5}, "data": {"values": [{"label": "NAS−LU\nvector"}]}, "mark": {"type": "text", "lineBreak": "\n", "lineHeight": 27, "fontSize": 24, "baseline": "middle", "dy": -13.5}, "encoding": {"text": {"field": "label"}}},
              {
               "width": 342, "height": 272,
               "layer": [
                {"data": {"name": "bars"}, "transform": [{"filter": "datum.p == 'NAS-LU'"}], "mark": "bar",
                 "encoding": {
                  "x": {"field": "cat", "type": "nominal", "scale": {"domain": ["a","b","c","d"], "paddingInner": 0, "paddingOuter": 0.05}, "axis": {"orient":"bottom","title":null,"labels":false,"grid":true,"gridWidth":1.4}},
                  "xOffset": {"field": "s", "type": "nominal", "scale": {"domain": ["RW-CP","Specialized","Portals 4 (iovec)"], "paddingInner": 0, "paddingOuter": 0.1667}},
                  "y": {"field": "v", "type": "quantitative", "scale": {"domain": [-10.35, 13.51], "nice": false, "zero": false}, "axis": {"values":[-10,-7.5,-5,-2.5,0,2.5,5,7.5,10,12.5],"title":null,"labels":false,"tickOpacity":{"condition":{"test":"datum.value >= 0 && datum.value % 5 == 0","value":1},"value":0},"gridWidth":{"condition":{"test":"datum.value % 5 == 0","value":1.4},"value":0.8}}},
                  "y2": {"datum": 1},
                  "color": {"field": "s", "type": "nominal", "scale": {"domain": ["RW-CP","Specialized","Portals 4 (iovec)"], "range": ["#E41A1C","#FF7F00","#932DA8"]}, "legend": null}
                 }},
                {"data": {"name": "bars"}, "transform": [{"filter": "datum.p == 'NAS-LU'"}], "mark": {"type": "text", "text": ""}, "encoding": {"x": {"field": "cat", "type": "nominal", "axis": {"orient":"bottom","title":null,"tickBand":"extent","grid":true,"gridWidth":0.8,"labels":false,"ticks":false,"domain":false}}}},
                {"data": {"name": "tab"}, "transform": [{"filter": "datum.p == 'NAS-LU'"}], "mark": "text", "encoding": {"x": {"field": "cat", "type": "nominal", "axis": null}, "y": {"datum": -2.95, "type": "quantitative"}, "text": {"field": "r1"}}},
                {"data": {"name": "tab"}, "transform": [{"filter": "datum.p == 'NAS-LU'"}], "mark": "text", "encoding": {"x": {"field": "cat", "type": "nominal", "axis": null}, "y": {"datum": -5.9, "type": "quantitative"}, "text": {"field": "r2"}}},
                {"data": {"name": "tab"}, "transform": [{"filter": "datum.p == 'NAS-LU'"}], "mark": "text", "encoding": {"x": {"field": "cat", "type": "nominal", "axis": null}, "y": {"datum": -8.8, "type": "quantitative"}, "text": {"field": "r3"}}},
                {"data": {"values": [{}]}, "mark": {"type": "rule", "color": "#000000", "strokeWidth": 2}, "encoding": {"y": {"datum": 1, "type": "quantitative"}}}
               ],
               "resolve": {"axis": {"x": "independent"}}
              }
             ]
            },
            {
             "spacing": 0, "bounds": "flush",
             "vconcat": [
              {"width": 343, "height": 51, "view": {"fill": "#D9D9D9", "stroke": "#333333", "strokeWidth": 1.5}, "data": {"values": [{"label": "WRF−Y\nstruct(subarray)"}]}, "mark": {"type": "text", "lineBreak": "\n", "lineHeight": 27, "fontSize": 24, "baseline": "middle", "dy": -13.5}, "encoding": {"text": {"field": "label"}}},
              {
               "width": 343, "height": 272,
               "layer": [
                {"data": {"name": "bars"}, "transform": [{"filter": "datum.p == 'WRF-Y'"}], "mark": "bar",
                 "encoding": {
                  "x": {"field": "cat", "type": "nominal", "scale": {"domain": ["a","b","c","d"], "paddingInner": 0, "paddingOuter": 0.05}, "axis": {"orient":"bottom","title":null,"labels":false,"grid":true,"gridWidth":1.4}},
                  "xOffset": {"field": "s", "type": "nominal", "scale": {"domain": ["RW-CP","Specialized","Portals 4 (iovec)"], "paddingInner": 0, "paddingOuter": 0.1667}},
                  "y": {"field": "v", "type": "quantitative", "scale": {"domain": [-10.35, 13.51], "nice": false, "zero": false}, "axis": {"values":[-10,-7.5,-5,-2.5,0,2.5,5,7.5,10,12.5],"title":null,"labels":false,"tickOpacity":{"condition":{"test":"datum.value >= 0 && datum.value % 5 == 0","value":1},"value":0},"gridWidth":{"condition":{"test":"datum.value % 5 == 0","value":1.4},"value":0.8}}},
                  "y2": {"datum": 1},
                  "color": {"field": "s", "type": "nominal", "scale": {"domain": ["RW-CP","Specialized","Portals 4 (iovec)"], "range": ["#E41A1C","#FF7F00","#932DA8"]}, "legend": null}
                 }},
                {"data": {"name": "bars"}, "transform": [{"filter": "datum.p == 'WRF-Y'"}], "mark": {"type": "text", "text": ""}, "encoding": {"x": {"field": "cat", "type": "nominal", "axis": {"orient":"bottom","title":null,"tickBand":"extent","grid":true,"gridWidth":0.8,"labels":false,"ticks":false,"domain":false}}}},
                {"data": {"name": "tab"}, "transform": [{"filter": "datum.p == 'WRF-Y'"}], "mark": "text", "encoding": {"x": {"field": "cat", "type": "nominal", "axis": null}, "y": {"datum": -2.95, "type": "quantitative"}, "text": {"field": "r1"}}},
                {"data": {"name": "tab"}, "transform": [{"filter": "datum.p == 'WRF-Y'"}], "mark": "text", "encoding": {"x": {"field": "cat", "type": "nominal", "axis": null}, "y": {"datum": -5.9, "type": "quantitative"}, "text": {"field": "r2"}}},
                {"data": {"name": "tab"}, "transform": [{"filter": "datum.p == 'WRF-Y'"}], "mark": "text", "encoding": {"x": {"field": "cat", "type": "nominal", "axis": null}, "y": {"datum": -8.8, "type": "quantitative"}, "text": {"field": "r3"}}},
                {"data": {"values": [{}]}, "mark": {"type": "rule", "color": "#000000", "strokeWidth": 2}, "encoding": {"y": {"datum": 1, "type": "quantitative"}}}
               ],
               "resolve": {"axis": {"x": "independent"}}
              }
             ]
            }
           ]
          }
         ]
        }
       ]
      }
     ]
    },
    {
     "spacing": 42,
     "resolve": {"scale": {"xOffset": "independent"}},
     "hconcat": [
      {"width": 418, "height": 20, "view": {"fill": "transparent", "stroke": null}, "data": {"values": [{}]}, "mark": {"type": "text", "text": ""}, "encoding": {}},
      {
       "spacing": 0, "bounds": "flush",
       "vconcat": [
        {"width": 342, "height": 51, "view": {"fill": "#D9D9D9", "stroke": "#333333", "strokeWidth": 1.5}, "data": {"values": [{"label": "FFT2D\ncontiguous(vector)"}]}, "mark": {"type": "text", "lineBreak": "\n", "lineHeight": 27, "fontSize": 24, "baseline": "middle", "dy": -13.5}, "encoding": {"text": {"field": "label"}}},
        {
         "width": 342, "height": 272,
         "layer": [
          {"data": {"name": "bars"}, "transform": [{"filter": "datum.p == 'FFT2D'"}], "mark": "bar",
           "encoding": {
            "x": {"field": "cat", "type": "nominal", "scale": {"domain": ["a","b","c","d"], "paddingInner": 0, "paddingOuter": 0.05}, "axis": {"orient":"bottom","title":null,"labels":false,"grid":true,"gridWidth":1.4}},
            "xOffset": {"field": "s", "type": "nominal", "scale": {"domain": ["RW-CP","Specialized","Portals 4 (iovec)"], "paddingInner": 0, "paddingOuter": 0.1667}},
            "y": {"field": "v", "type": "quantitative", "scale": {"domain": [-10.35, 13.51], "nice": false, "zero": false}, "axis": {"values":[-10,-7.5,-5,-2.5,0,2.5,5,7.5,10,12.5],"title":null,"labels":false,"tickOpacity":{"condition":{"test":"datum.value >= 0 && datum.value % 5 == 0","value":1},"value":0},"gridWidth":{"condition":{"test":"datum.value % 5 == 0","value":1.4},"value":0.8}}},
            "y2": {"datum": 1},
            "color": {"field": "s", "type": "nominal", "scale": {"domain": ["RW-CP","Specialized","Portals 4 (iovec)"], "range": ["#E41A1C","#FF7F00","#932DA8"]}, "legend": null}
           }},
          {"data": {"name": "bars"}, "transform": [{"filter": "datum.p == 'FFT2D'"}], "mark": {"type": "text", "text": ""}, "encoding": {"x": {"field": "cat", "type": "nominal", "axis": {"orient":"bottom","title":null,"tickBand":"extent","grid":true,"gridWidth":0.8,"labels":false,"ticks":false,"domain":false}}}},
          {"data": {"name": "tab"}, "transform": [{"filter": "datum.p == 'FFT2D'"}], "mark": "text", "encoding": {"x": {"field": "cat", "type": "nominal", "axis": null}, "y": {"datum": -2.95, "type": "quantitative"}, "text": {"field": "r1"}}},
          {"data": {"name": "tab"}, "transform": [{"filter": "datum.p == 'FFT2D'"}], "mark": "text", "encoding": {"x": {"field": "cat", "type": "nominal", "axis": null}, "y": {"datum": -5.9, "type": "quantitative"}, "text": {"field": "r2"}}},
          {"data": {"name": "tab"}, "transform": [{"filter": "datum.p == 'FFT2D'"}], "mark": "text", "encoding": {"x": {"field": "cat", "type": "nominal", "axis": null}, "y": {"datum": -8.8, "type": "quantitative"}, "text": {"field": "r3"}}},
          {"data": {"values": [{}]}, "mark": {"type": "rule", "color": "#000000", "strokeWidth": 2}, "encoding": {"y": {"datum": 1, "type": "quantitative"}}}
         ],
         "resolve": {"axis": {"x": "independent"}}
        }
       ]
      },
      {
       "spacing": 52,
       "resolve": {"scale": {"xOffset": "independent"}},
       "hconcat": [
        {
         "spacing": 0, "bounds": "flush",
         "vconcat": [
          {"width": 345, "height": 51, "view": {"fill": "#D9D9D9", "stroke": "#333333", "strokeWidth": 1.5}, "data": {"values": [{"label": "LAMMPS−F\nindex_block"}]}, "mark": {"type": "text", "lineBreak": "\n", "lineHeight": 27, "fontSize": 24, "baseline": "middle", "dy": -13.5}, "encoding": {"text": {"field": "label"}}},
          {
           "width": 345, "height": 272,
           "layer": [
            {"data": {"name": "bars"}, "transform": [{"filter": "datum.p == 'LAMMPS-F'"}], "mark": "bar",
             "encoding": {
              "x": {"field": "cat", "type": "nominal", "scale": {"domain": ["a","b","c"], "paddingInner": 0, "paddingOuter": 0.04}, "axis": {"orient":"bottom","title":null,"labels":false,"grid":true,"gridWidth":1.4}},
              "xOffset": {"field": "s", "type": "nominal", "scale": {"domain": ["RW-CP","Specialized","Portals 4 (iovec)"], "paddingInner": 0, "paddingOuter": 0.1667}},
              "y": {"field": "v", "type": "quantitative", "scale": {"domain": [-10.35, 13.51], "nice": false, "zero": false}, "axis": {"values":[-10,-7.5,-5,-2.5,0,2.5,5,7.5,10,12.5],"title":null,"labels":false,"tickOpacity":{"condition":{"test":"datum.value >= 0 && datum.value % 5 == 0","value":1},"value":0},"gridWidth":{"condition":{"test":"datum.value % 5 == 0","value":1.4},"value":0.8}}},
              "y2": {"datum": 1},
              "color": {"field": "s", "type": "nominal", "scale": {"domain": ["RW-CP","Specialized","Portals 4 (iovec)"], "range": ["#E41A1C","#FF7F00","#932DA8"]}, "legend": null}
             }},
            {"data": {"name": "bars"}, "transform": [{"filter": "datum.p == 'LAMMPS-F'"}], "mark": {"type": "text", "text": ""}, "encoding": {"x": {"field": "cat", "type": "nominal", "axis": {"orient":"bottom","title":null,"tickBand":"extent","grid":true,"gridWidth":0.8,"labels":false,"ticks":false,"domain":false}}}},
            {"data": {"name": "tab"}, "transform": [{"filter": "datum.p == 'LAMMPS-F'"}], "mark": "text", "encoding": {"x": {"field": "cat", "type": "nominal", "axis": null}, "y": {"datum": -2.95, "type": "quantitative"}, "text": {"field": "r1"}}},
            {"data": {"name": "tab"}, "transform": [{"filter": "datum.p == 'LAMMPS-F'"}], "mark": "text", "encoding": {"x": {"field": "cat", "type": "nominal", "axis": null}, "y": {"datum": -5.9, "type": "quantitative"}, "text": {"field": "r2"}}},
            {"data": {"name": "tab"}, "transform": [{"filter": "datum.p == 'LAMMPS-F'"}], "mark": "text", "encoding": {"x": {"field": "cat", "type": "nominal", "axis": null}, "y": {"datum": -8.8, "type": "quantitative"}, "text": {"field": "r3"}}},
            {"data": {"values": [{}]}, "mark": {"type": "rule", "color": "#000000", "strokeWidth": 2}, "encoding": {"y": {"datum": 1, "type": "quantitative"}}}
           ],
           "resolve": {"axis": {"x": "independent"}}
          }
         ]
        },
        {
         "spacing": 0, "bounds": "flush",
         "vconcat": [
          {"width": 342, "height": 51, "view": {"fill": "#D9D9D9", "stroke": "#333333", "strokeWidth": 1.5}, "data": {"values": [{"label": "COMB\nsubarray"}]}, "mark": {"type": "text", "lineBreak": "\n", "lineHeight": 27, "fontSize": 24, "baseline": "middle", "dy": -13.5}, "encoding": {"text": {"field": "label"}}},
          {
           "width": 342, "height": 272,
           "layer": [
            {"data": {"name": "bars"}, "transform": [{"filter": "datum.p == 'COMB'"}], "mark": "bar",
             "encoding": {
              "x": {"field": "cat", "type": "nominal", "scale": {"domain": ["a","b","c","d"], "paddingInner": 0, "paddingOuter": 0.05}, "axis": {"orient":"bottom","title":null,"labels":false,"grid":true,"gridWidth":1.4}},
              "xOffset": {"field": "s", "type": "nominal", "scale": {"domain": ["RW-CP","Specialized","Portals 4 (iovec)"], "paddingInner": 0, "paddingOuter": 0.1667}},
              "y": {"field": "v", "type": "quantitative", "scale": {"domain": [-10.35, 13.51], "nice": false, "zero": false}, "axis": {"values":[-10,-7.5,-5,-2.5,0,2.5,5,7.5,10,12.5],"title":null,"labels":false,"tickOpacity":{"condition":{"test":"datum.value >= 0 && datum.value % 5 == 0","value":1},"value":0},"gridWidth":{"condition":{"test":"datum.value % 5 == 0","value":1.4},"value":0.8}}},
              "y2": {"datum": 1},
              "color": {"field": "s", "type": "nominal", "scale": {"domain": ["RW-CP","Specialized","Portals 4 (iovec)"], "range": ["#E41A1C","#FF7F00","#932DA8"]}, "legend": null}
             }},
            {"data": {"name": "bars"}, "transform": [{"filter": "datum.p == 'COMB'"}], "mark": {"type": "text", "text": ""}, "encoding": {"x": {"field": "cat", "type": "nominal", "axis": {"orient":"bottom","title":null,"tickBand":"extent","grid":true,"gridWidth":0.8,"labels":false,"ticks":false,"domain":false}}}},
            {"data": {"name": "tab"}, "transform": [{"filter": "datum.p == 'COMB'"}], "mark": "text", "encoding": {"x": {"field": "cat", "type": "nominal", "axis": null}, "y": {"datum": -2.95, "type": "quantitative"}, "text": {"field": "r1"}}},
            {"data": {"name": "tab"}, "transform": [{"filter": "datum.p == 'COMB'"}], "mark": "text", "encoding": {"x": {"field": "cat", "type": "nominal", "axis": null}, "y": {"datum": -5.9, "type": "quantitative"}, "text": {"field": "r2"}}},
            {"data": {"name": "tab"}, "transform": [{"filter": "datum.p == 'COMB'"}], "mark": "text", "encoding": {"x": {"field": "cat", "type": "nominal", "axis": null}, "y": {"datum": -8.8, "type": "quantitative"}, "text": {"field": "r3"}}},
            {"data": {"values": [{}]}, "mark": {"type": "rule", "color": "#000000", "strokeWidth": 2}, "encoding": {"y": {"datum": 1, "type": "quantitative"}}}
           ],
           "resolve": {"axis": {"x": "independent"}}
          }
         ]
        }
       ]
      }
     ]
    }
   ]
  }
 ]
}
